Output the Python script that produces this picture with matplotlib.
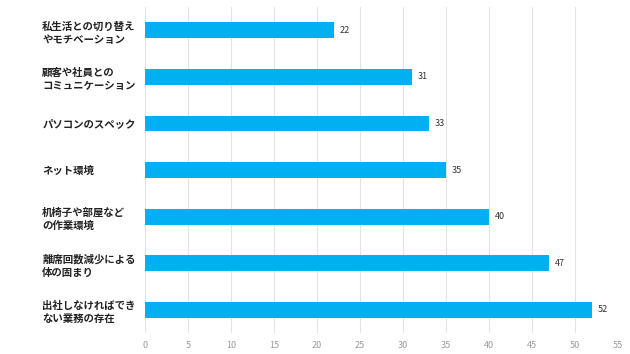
import matplotlib
matplotlib.use("Agg")
import matplotlib.pyplot as plt

plt.rcParams['font.family'] = ['Noto Sans CJK JP', 'DejaVu Sans']

categories = [
    "私生活との切り替え\nやモチベーション",
    "顧客や社員との\nコミュニケーション",
    "パソコンのスペック",
    "ネット環境",
    "机椅子や部屋など\nの作業環境",
    "離席回数減少による\n体の固まり",
    "出社しなければでき\nない業務の存在",
]
values = [22, 31, 33, 35, 40, 47, 52]
xticks = [0, 5, 10, 15, 20, 25, 30, 35, 40, 45, 50, 55]

fig = plt.figure(figsize=(6.3, 3.54), dpi=100)
ax = fig.add_axes([0.2302, 0.059, 0.981 - 0.2302, 0.921])

ypos = list(range(len(categories)))
ax.barh(ypos, values, height=0.34, color='#00B0F0', zorder=3)
ax.set_ylim(len(categories) - 0.5, -0.5)
ax.set_xlim(0, 55)
ax.set_xticks(xticks)
ax.set_xticklabels([str(t) for t in xticks], fontsize=6.5, color='#9a9a9a')
ax.tick_params(axis='x', length=0, pad=6)
ax.set_yticks(ypos)
ax.set_yticklabels(categories, fontsize=7.5, fontweight='bold', color='#222222', linespacing=1.4)
ax.tick_params(axis='y', length=0, pad=74)
for lbl in ax.get_yticklabels():
    lbl.set_horizontalalignment('left')
    lbl.set_multialignment('left')

ax.grid(axis='x', color='#e3e3e3', linewidth=0.8, zorder=0)
for s in ax.spines.values():
    s.set_visible(False)

for y, v in zip(ypos, values):
    ax.annotate(str(v), (v, y), xytext=(4, 0), textcoords='offset points',
                va='center', ha='left', fontsize=6.5, color='#333333')

fig.savefig('out.png', dpi=100)
